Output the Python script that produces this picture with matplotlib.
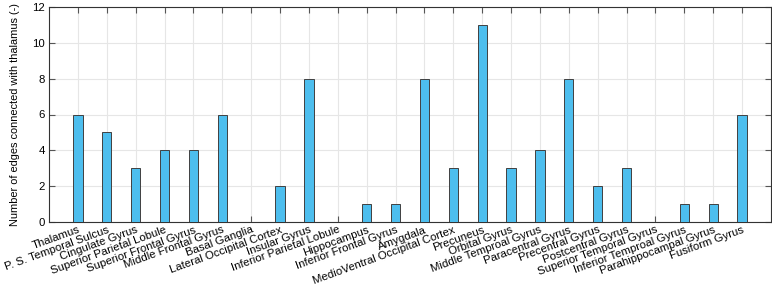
import matplotlib
matplotlib.use("Agg")
import matplotlib.pyplot as plt
import numpy as np

regions = ["Thalamus", "P. S. Temporal Sulcus", "Cingulate Gyrus", "Superior Parietal Lobule",
           "Superior Frontal Gyrus", "Middle Frontal Gyrus", "Basal Ganglia", "Lateral Occipital Cortex",
           "Insular Gyrus", "Inferior Parietal Lobule", "Hippocampus", "Inferior Frontal Gyrus",
           "Amygdala", "MedioVentral Occipital Cortex", "Precuneus", "Orbital Gyrus",
           "Middle Temproal Gyrus", "Paracentral Gyrus", "Precentral Gyrus", "Postcentral Gyrus",
           "Superior Temporal Gyrus", "Inferior Temproal Gyrus", "Parahippocampal Gyrus", "Fusiform Gyrus"]
edges = [6, 5, 3, 4, 4, 6, 0, 2, 8, 0, 1, 1, 8, 3, 11, 3, 4, 8, 2, 3, 0, 1, 1, 6]
yticks = [0, 2, 4, 6, 8, 10, 12]

plt.rcParams['font.family'] = ['Liberation Sans', 'DejaVu Sans']

fig = plt.figure(figsize=(7.72, 2.85), dpi=100)
ax = fig.add_axes([49/772, 1 - 222/285, (771 - 49)/772, (222 - 7)/285])

x = np.arange(1, len(regions) + 1)
ax.bar(x, edges, width=0.32, color='#4DBEEE', edgecolor='#404040', linewidth=0.7, zorder=3)

ax.set_xlim(0, 25)
ax.set_ylim(0, 12)
ax.set_yticks(yticks)
ax.set_xticks(x)
ax.set_xticklabels(regions, rotation=20, ha='right', rotation_mode='anchor', fontsize=8.2)
ax.tick_params(axis='both', direction='in', top=True, right=True, length=4, color='#555555',
               labelsize=8.2, pad=3)
ax.tick_params(axis='x', pad=2)
ax.grid(True, color='#e6e6e6', linewidth=0.8, zorder=0)
ax.set_axisbelow(True)
for s in ax.spines.values():
    s.set_color('#333333')
    s.set_linewidth(0.8)
ax.set_ylabel('Number of edges connected with thalamus (-)', fontsize=7.9, labelpad=9)

fig.savefig('out.png', dpi=100)
